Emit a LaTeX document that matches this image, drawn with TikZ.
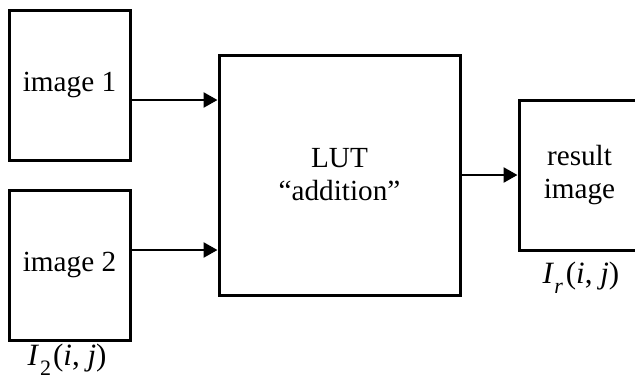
\documentclass[tikz,border=0pt]{standalone}
\usepackage{fontspec}
\setmainfont{Liberation Serif}
\usetikzlibrary{arrows.meta,positioning,calc}

\begin{document}
\begin{tikzpicture}[x=0.5pt,y=-0.5pt,
    box/.style={draw,line width=1.5pt,align=center,font=\fontsize{14.6}{16.5}\selectfont,inner sep=0pt},
    flow/.style={line width=1.3pt,-{Triangle[length=7pt,width=7.5pt]}},
    lbl/.style={font=\fontsize{15.5}{18}\selectfont,inner sep=0pt}]
  \useasboundingbox (0,0) rectangle (635,381); % Rahmen wie im Original
  \node[box,minimum width=60.5pt,minimum height=75pt] (img1) at (69.5,85) {image 1}; % erstes Eingangsbild
  \node[box,minimum width=60.5pt,minimum height=75pt] (img2) at (69.5,265) {image 2}; % zweites Eingangsbild
  \node[box,minimum width=120.5pt,minimum height=120pt] (lut) at (339.5,175) {LUT\\``addition''}; % Tabelle
  \node[box,minimum width=60.5pt,minimum height=75pt] (res) at (579.5,175) {result\\image}; % Ergebnis, rechts abgeschnitten
  \node[lbl] (i2) at (67,360) {\textit{I}\kern0.5pt\raisebox{-0.7ex}{\fontsize{11}{12}\selectfont 2}\kern1pt(\textit{i}, \textit{j})};
  \node[lbl] (ir) at (581,278) {\textit{I}\raisebox{-0.7ex}{\fontsize{11}{12}\selectfont\textit{r}}\kern1.5pt(\textit{i}, \textit{j})};
  \coordinate (a1) at (0,100); % Hoehe des oberen Pfeils
  \coordinate (a2) at (0,250); % Hoehe des unteren Pfeils
  \draw[flow] (img1.east |- a1) -- (lut.west |- a1);
  \draw[flow] (img2.east |- a2) -- (lut.west |- a2);
  \draw[flow] (lut) -- (res);
\end{tikzpicture}
\end{document}
